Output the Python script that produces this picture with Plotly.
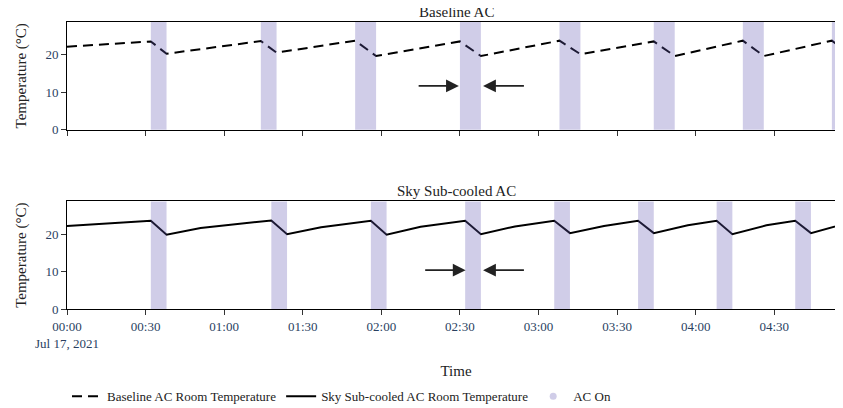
import plotly.graph_objects as go
from plotly.subplots import make_subplots

DAY = "2021-07-17 "

# Baseline AC room temperature (°C)
baseline_time = ["00:00", "00:32", "00:38", "01:14", "01:20", "01:50", "01:58",
                 "02:30", "02:38", "03:08", "03:16", "03:44", "03:52", "04:18",
                 "04:26", "04:52", "05:00"]
baseline_temp = [22.2, 23.6, 20.3, 23.7, 20.6, 23.8, 19.7,
                 23.6, 19.7, 23.8, 20.2, 23.6, 19.7, 23.8,
                 19.7, 23.8, 19.7]

# Sky sub-cooled AC room temperature (°C)
sky_time = ["00:00", "00:32", "00:38", "00:51", "01:18", "01:24", "01:37", "01:56",
            "02:02", "02:15", "02:32", "02:38", "02:51", "03:06", "03:12", "03:25",
            "03:38", "03:44", "03:57", "04:08", "04:14", "04:27", "04:38", "04:44",
            "04:57"]
sky_temp = [22.2, 23.6, 19.9, 21.7, 23.7, 20.0, 21.9, 23.6,
            19.9, 22.0, 23.6, 20.0, 22.1, 23.6, 20.3, 22.2,
            23.6, 20.3, 22.4, 23.6, 20.0, 22.4, 23.6, 20.3,
            22.8]

# AC-on periods (start, end)
baseline_ac_start = ["00:32", "01:14", "01:50", "02:30", "03:08", "03:44", "04:18", "04:52"]
baseline_ac_end = ["00:38", "01:20", "01:58", "02:38", "03:16", "03:52", "04:26", "05:00"]
sky_ac_start = ["00:32", "01:18", "01:56", "02:32", "03:06", "03:38", "04:08", "04:38"]
sky_ac_end = ["00:38", "01:24", "02:02", "02:38", "03:12", "03:44", "04:14", "04:44"]

# Arrow annotations: (tail time, head time, temperature)
baseline_arrows = [("02:13:40", "02:29:36", 11.7), ("02:55:00", "02:38:50", 11.7)]
sky_arrows = [("02:16:10", "02:32:10", 10.4), ("02:55:00", "02:38:50", 10.4)]

x_range = ["00:00", "04:57"]

SERIF = "Liberation Serif"
AC_COLOR = "rgba(100,90,180,0.3)"


def t(s):
    return DAY + s


fig = make_subplots(rows=2, cols=1, shared_xaxes=True, vertical_spacing=0.25,
                    subplot_titles=("Baseline AC", "Sky Sub-cooled AC"))

fig.add_trace(go.Scatter(x=[t(s) for s in baseline_time], y=baseline_temp, mode="lines",
                         name="Baseline AC Room Temperature",
                         line=dict(color="black", width=2, dash="10px,6px")), row=1, col=1)
fig.add_trace(go.Scatter(x=[t(s) for s in sky_time], y=sky_temp, mode="lines",
                         name="Sky Sub-cooled AC Room Temperature",
                         line=dict(color="black", width=2)), row=2, col=1)
fig.add_trace(go.Scatter(x=[None], y=[None], mode="markers", name="AC On",
                         marker=dict(color=AC_COLOR, size=7)), row=1, col=1)

for starts, ends, xr, yr in [(baseline_ac_start, baseline_ac_end, "x", "y domain"),
                             (sky_ac_start, sky_ac_end, "x2", "y2 domain")]:
    for s, e in zip(starts, ends):
        fig.add_shape(type="rect", xref=xr, yref=yr, x0=t(s), x1=t(e), y0=0, y1=1,
                      fillcolor=AC_COLOR, line=dict(width=0), layer="above")

for arrows, xr, yr in [(baseline_arrows, "x", "y"), (sky_arrows, "x2", "y2")]:
    for tail, head, val in arrows:
        fig.add_annotation(x=t(head), y=val, ax=t(tail), ay=val, xref=xr, yref=yr,
                           axref=xr, ayref=yr, text="", showarrow=True,
                           arrowhead=2, arrowsize=1.6, arrowwidth=1.6,
                           arrowcolor="#222222", standoff=0)

axis_common = dict(showline=True, linecolor="black", linewidth=1, mirror=True,
                   ticks="outside", ticklen=5, tickcolor="#333333", showgrid=False,
                   zeroline=False, tickfont=dict(family=SERIF, size=13, color="#2a3f5f"))

fig.update_xaxes(**axis_common, range=[t(x_range[0]), t(x_range[1])],
                 dtick=30 * 60 * 1000, tick0=t("00:00"))
fig.update_xaxes(title=dict(text="Time", font=dict(family=SERIF, size=15, color="#222222")),
                 row=2, col=1)
fig.update_yaxes(**axis_common, range=[0, 28.8], dtick=10,
                 title=dict(text="Temperature (°C)", font=dict(family=SERIF, size=15, color="#222222")))

fig.update_annotations(selector=dict(text="Baseline AC"), font=dict(family=SERIF, size=15, color="#222222"))
fig.update_annotations(selector=dict(text="Sky Sub-cooled AC"), font=dict(family=SERIF, size=15, color="#222222"))

fig.update_layout(
    width=843, height=408,
    margin=dict(l=59, r=6, t=14, b=106),
    plot_bgcolor="white", paper_bgcolor="white",
    font=dict(family=SERIF, size=13, color="#222222"),
    legend=dict(orientation="h", x=0, xanchor="left", y=-0.3, yanchor="middle",
                font=dict(family=SERIF, size=13, color="#222222")),
)

fig.write_html("out.html")
